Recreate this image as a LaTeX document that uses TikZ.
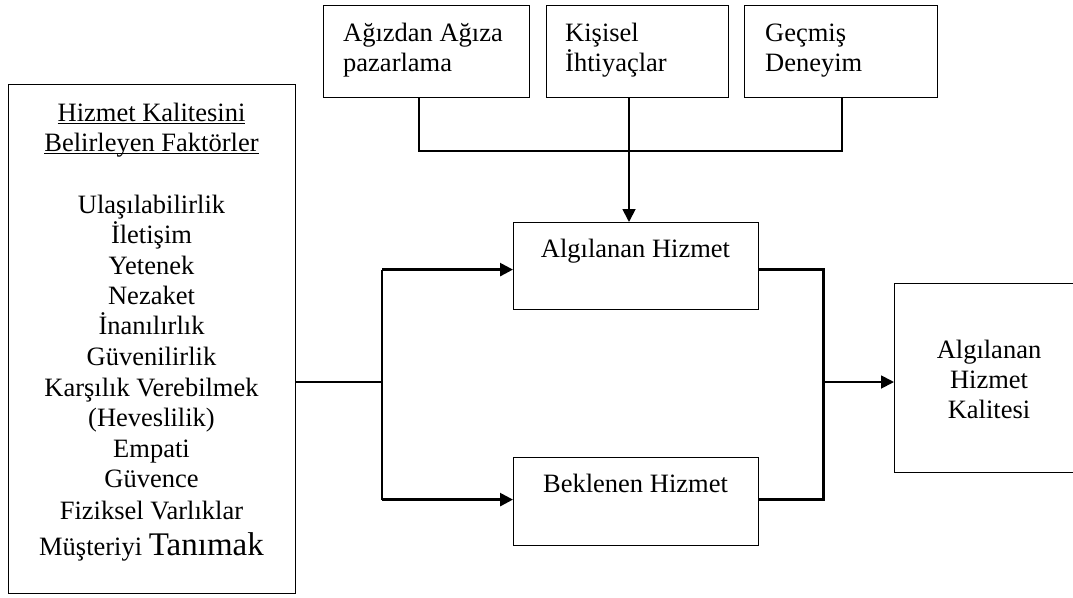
\documentclass[tikz,border=0pt]{standalone}
\usepackage{fontspec}
\setmainfont{Liberation Serif}
\usetikzlibrary{arrows.meta}
\newcommand\myul[1]{\setbox0\hbox{#1}\rlap{\rule[-3.2pt]{\wd0}{1.6pt}}\box0}
\begin{document}
\begin{tikzpicture}[x=1pt,y=-1pt,
  box/.style={draw, line width=1.2pt, anchor=north west, inner sep=0pt},
  txt/.style={anchor=base, font=\fontsize{26.5}{30}\selectfont, inner sep=0pt},
  ltxt/.style={anchor=base west, font=\fontsize{26.5}{30}\selectfont, inner sep=0pt},
  topline/.style={line width=1.8pt},
  midline/.style={line width=2.6pt},
  thickline/.style={line width=3pt, line join=miter},
  arr/.style={-{Triangle[length=13pt,width=13pt]}}]
\useasboundingbox (0,0) rectangle (1073,597);
% boxes
\node[box, minimum width=287pt, minimum height=509pt] (L) at (8,84) {};
\node[box, minimum width=206pt, minimum height=92pt] (T1) at (323,5) {};
\node[box, minimum width=182pt, minimum height=92pt] (T2) at (546,5) {};
\node[box, minimum width=193pt, minimum height=92pt] (T3) at (744,5) {};
\node[box, minimum width=245pt, minimum height=87pt] (AH) at (513,222) {};
\node[box, minimum width=245pt, minimum height=88pt] (BH) at (513,457) {};
\node[box, minimum width=190pt, minimum height=189pt] (Q) at (894,283) {};
% left box text
\node[txt] (h1) at (151.5,121) {\myul{Hizmet Kalitesini}};
\node[txt] (h2) at (151.5,151) {\myul{Belirleyen Faktörler}};
\foreach \t/\yy [count=\i] in {Ulaşılabilirlik/213, İletişim/243, Yetenek/274, Nezaket/304, İnanılırlık/334, Güvenilirlik/365, Karşılık Verebilmek/396, (Heveslilik)/426, Empati/457, Güvence/487, Fiziksel Varlıklar/519}
  \node[txt] (f\i) at (151.5,\yy) {\t};
\node[txt] (f12) at (151.5,555) {Müşteriyi {\fontsize{33}{36}\selectfont Tanımak}};
% top box text
\node[ltxt] (t1a) at (343,41) {Ağızdan Ağıza};
\node[ltxt] (t1b) at (343,71) {pazarlama};
\node[ltxt] (t2a) at (565,41) {Kişisel};
\node[ltxt] (t2b) at (565,71) {İhtiyaçlar};
\node[ltxt] (t3a) at (765,41) {Geçmiş};
\node[ltxt] (t3b) at (765,71) {Deneyim};
% middle box text
\node[txt] (ah) at (635.5,257) {Algılanan Hizmet};
\node[txt] (bh) at (635.5,492) {Beklenen Hizmet};
% right box text
\node[txt] (q1) at (989,358) {Algılanan};
\node[txt] (q2) at (989,388) {Hizmet};
\node[txt] (q3) at (989,418) {Kalitesi};
% top connectors
\coordinate (x1) at (419,151);
\coordinate (x3) at (842,151);
\coordinate (j) at (629,151);
\draw[topline] (x1 |- T1.south) -- (x1) -- (x3) -- (x3 |- T3.south);
\draw[topline, arr] (j |- T2.south) -- (j |- AH.north);
% left connectors
\coordinate (s) at (382,382);
\coordinate (a1) at ([yshift=-3.5pt]AH.west);
\coordinate (b1) at ([yshift=2pt]BH.west);
\draw[topline] (L.east |- s) -- (s);
\draw[midline] (s |- a1) -- (s |- b1);
\draw[midline, arr] (s |- a1) -- (a1);
\draw[midline, arr] (s |- b1) -- (b1);
% right connectors
\coordinate (r) at (823,382);
\coordinate (a2) at ([yshift=-3.5pt]AH.east);
\coordinate (b2) at ([yshift=2pt]BH.east);
\draw[thickline] (a2) -| (r |- b2) -- (b2);
\draw[topline, arr] (r) -- (Q.west |- r);
\end{tikzpicture}
\end{document}
